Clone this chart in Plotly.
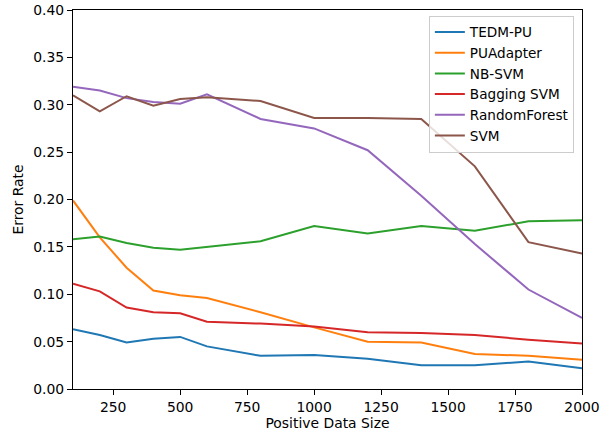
import plotly.graph_objects as go

x = [100, 200, 300, 400, 500, 600, 800, 1000, 1200, 1400, 1600, 1800, 2000]
tedm_pu = [0.063, 0.057, 0.049, 0.053, 0.055, 0.045, 0.035, 0.036, 0.032, 0.025, 0.025, 0.029, 0.022]
puadapter = [0.199, 0.160, 0.128, 0.104, 0.099, 0.096, 0.081, 0.065, 0.050, 0.049, 0.037, 0.035, 0.031]
nb_svm = [0.158, 0.161, 0.154, 0.149, 0.147, 0.150, 0.156, 0.172, 0.164, 0.172, 0.167, 0.177, 0.178]
bagging_svm = [0.111, 0.103, 0.086, 0.081, 0.080, 0.071, 0.069, 0.066, 0.060, 0.059, 0.057, 0.052, 0.048]
random_forest = [0.319, 0.315, 0.307, 0.303, 0.301, 0.311, 0.285, 0.275, 0.252, 0.204, 0.153, 0.105, 0.075]
svm = [0.310, 0.293, 0.309, 0.299, 0.306, 0.308, 0.304, 0.286, 0.286, 0.285, 0.235, 0.155, 0.143]
x_ticks = [250, 500, 750, 1000, 1250, 1500, 1750, 2000]
y_ticks = [0, 0.05, 0.10, 0.15, 0.20, 0.25, 0.30, 0.35, 0.40]

series = [
    ("TEDM-PU", tedm_pu, "#1f77b4"),
    ("PUAdapter", puadapter, "#ff7f0e"),
    ("NB-SVM", nb_svm, "#2ca02c"),
    ("Bagging SVM", bagging_svm, "#d62728"),
    ("RandomForest", random_forest, "#9467bd"),
    ("SVM", svm, "#8c564b"),
]

fig = go.Figure()
for name, ys, color in series:
    fig.add_trace(go.Scatter(x=x, y=ys, mode="lines", name=name,
                             line=dict(color=color, width=2)))

FS = 13.9
axis_common = dict(showline=True, linecolor="black", linewidth=1, mirror=True,
                   ticks="outside", ticklen=5, tickcolor="black", showgrid=False,
                   zeroline=False, automargin=False, tickfont=dict(size=FS, color="black"))

fig.update_layout(
    width=613, height=434,
    margin=dict(l=73, r=31, t=10, b=45),
    paper_bgcolor="white", plot_bgcolor="white",
    font=dict(family="DejaVu Sans", size=FS, color="black"),
    xaxis=dict(range=[100, 2000], tickvals=x_ticks,
               title=dict(text="Positive Data Size", font=dict(size=FS), standoff=4), **axis_common),
    yaxis=dict(range=[0, 0.40], tickvals=y_ticks,
               tickformat=".2f", title=dict(text="Error Rate", font=dict(size=FS), standoff=6), **axis_common),
    legend=dict(x=0.984, y=0.985, xanchor="right", yanchor="top",
                bgcolor="rgba(255,255,255,0.8)", bordercolor="#cccccc", borderwidth=1,
                font=dict(size=13.6), tracegroupgap=0, itemwidth=30),
    showlegend=True,
)

# remove the browser's default 8px body margin so the figure sits at the page origin
fig.write_html("out.html", config={"displayModeBar": False},
               post_script="document.body.style.margin='0';")
